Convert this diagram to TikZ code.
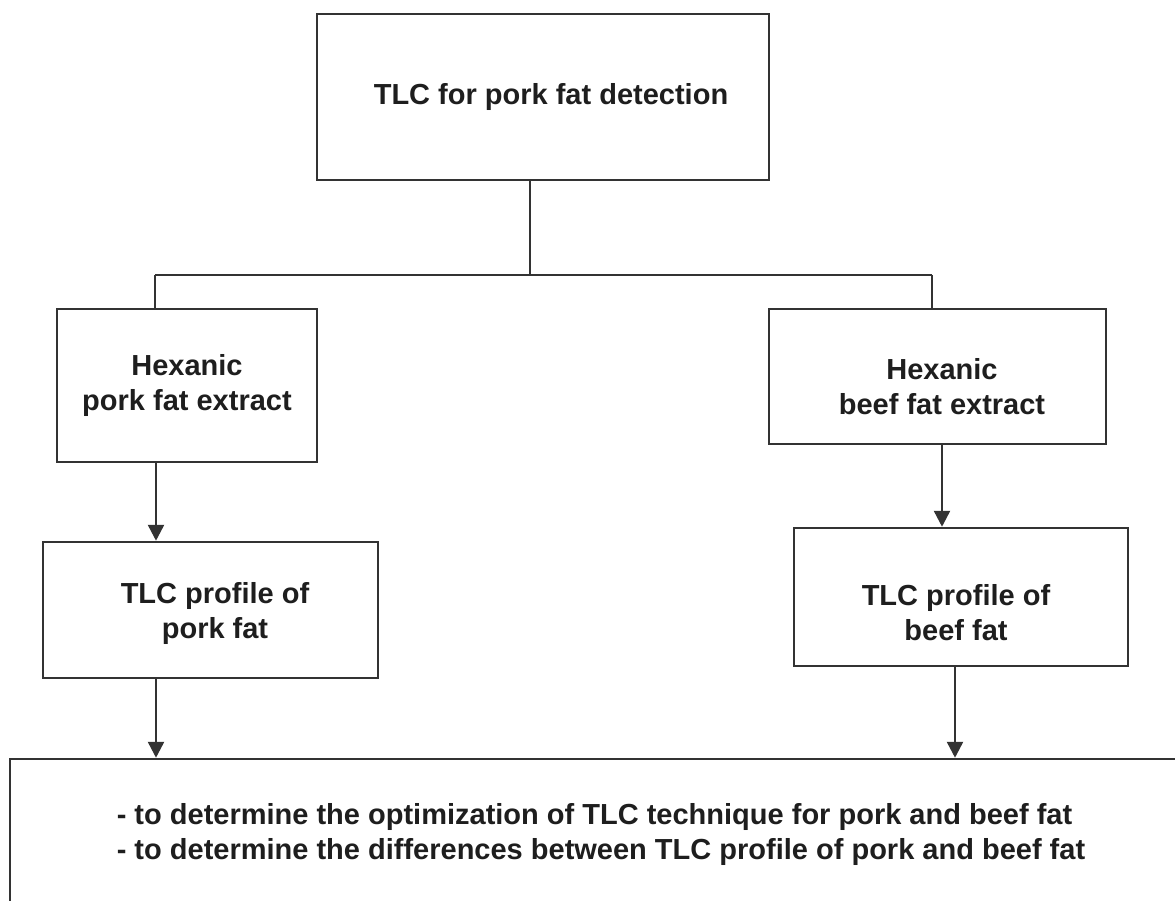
\documentclass[tikz,border=0pt]{standalone}
\usepackage{fontspec}
\setmainfont{Liberation Sans}
\usetikzlibrary{arrows.meta,calc}
\definecolor{ln}{HTML}{333333}
\definecolor{tx}{HTML}{1E1E1E}
\begin{document}
\begin{tikzpicture}[x=1pt,y=-1pt,
  boxn/.style={draw=ln,line width=2.5pt,inner sep=0pt},
  txt/.style={inner sep=0pt,align=center,text=tx,
    font=\fontsize{29}{35}\selectfont\bfseries},
  conn/.style={draw=ln,line width=2.5pt},
  arr/.style={draw=ln,line width=2.5pt,-{Triangle[length=16pt,width=16pt]}}]
\useasboundingbox (0,0) rectangle (1175,901);
\clip (0,0) rectangle (1175,901);
% boxes
\node[boxn,minimum width=452pt,minimum height=166pt] (top) at (543,97) {};
\node[boxn,minimum width=260pt,minimum height=153pt] (hp) at (187,385.5) {};
\node[boxn,minimum width=337pt,minimum height=135pt] (hb) at (937.5,376.5) {};
\node[boxn,minimum width=335pt,minimum height=136pt] (tp) at (210.5,610) {};
\node[boxn,minimum width=334pt,minimum height=138pt] (tb) at (961,597) {};
\node[boxn,minimum width=1190pt,minimum height=170pt] (res) at (605,844) {};
% texts
\node[txt] (topt) at (551,97) {TLC for pork fat detection};
\node[txt] (hpt) at (187,385.5) {Hexanic\\pork fat extract};
\node[txt] (hbt) at (942,387) {Hexanic\\beef fat extract};
\node[txt] (tpt) at (215,613) {TLC profile of\\pork fat};
\node[txt] (tbt) at (956,613) {TLC profile of\\beef fat};
\node[txt,align=left] (rest) at (601,834)
  {- to determine the optimization of TLC technique for pork and beef fat\\
   - to determine the differences between TLC profile of pork and beef fat};
% connectors
\coordinate (j) at (530,275);
\coordinate (jl) at (155,275);
\coordinate (jr) at (932,275);
\coordinate (al) at (156,0);
\coordinate (ar) at (942,0);
\coordinate (br) at (955,0);
\draw[conn] (top.south -| j) -- (j);
\draw[conn] (jl) -- (jr);
\draw[conn] (jl) -- (jl |- hp.north);
\draw[conn] (jr) -- (jr |- hb.north);
\draw[arr] (hp.south -| al) -- (tp.north -| al);
\draw[arr] (hb.south -| ar) -- (tb.north -| ar);
\draw[arr] (tp.south -| al) -- (res.north -| al);
\draw[arr] (tb.south -| br) -- (res.north -| br);
\end{tikzpicture}
\end{document}
